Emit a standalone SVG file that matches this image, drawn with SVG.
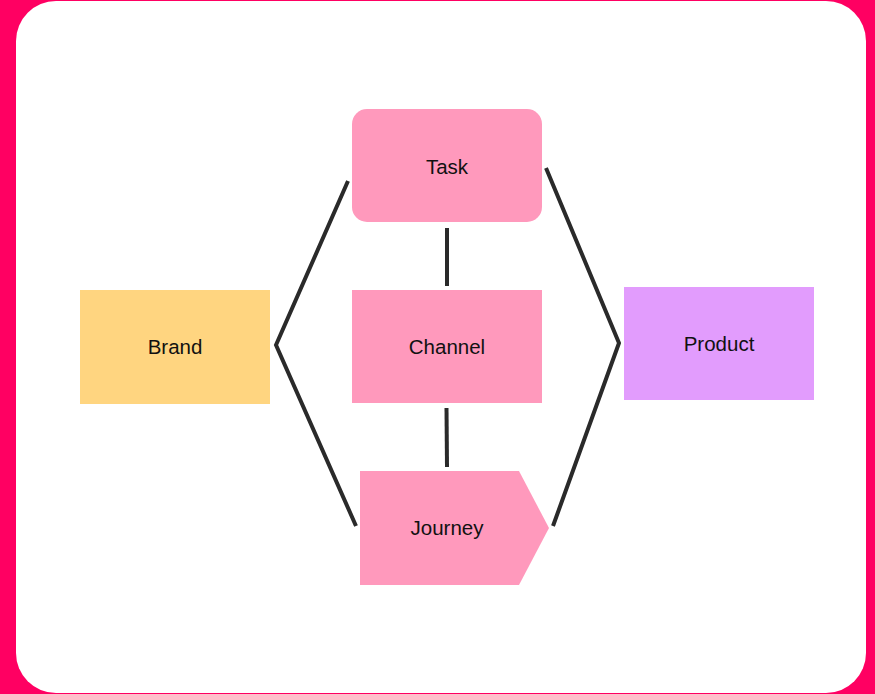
<svg xmlns="http://www.w3.org/2000/svg" width="875" height="694" viewBox="0 0 875 694">
  <style>
    .lbl { font-family: "Liberation Sans", Arial, sans-serif; font-size: 20.5px; fill: #111; text-anchor: middle; }
    .pink { fill: #FF99BC; }
    .edge { fill: none; stroke: #2A2A2A; stroke-width: 4; stroke-linecap: butt; stroke-linejoin: miter; }
  </style>
  <!-- frame -->
  <rect x="0" y="0" width="875" height="694" fill="#FF0062"/>
  <rect x="16" y="1" width="850" height="692" rx="40" ry="40" fill="#FFFFFF"/>

  <!-- connectors -->
  <g id="connectors">
    <line class="edge" x1="447" y1="228" x2="447" y2="286"/>
    <line class="edge" x1="446.5" y1="408" x2="447" y2="467"/>
    <polyline class="edge" points="348,181 276,345 356,526"/>
    <polyline class="edge" points="546,168 619,343 553,526"/>
  </g>

  <g id="task">
    <rect class="pink" x="352" y="109" width="190" height="113" rx="15" ry="15"/>
    <text class="lbl" x="447" y="174">Task</text>
  </g>
  <g id="channel">
    <rect class="pink" x="352" y="290" width="190" height="113"/>
    <text class="lbl" x="447" y="354">Channel</text>
  </g>
  <g id="journey">
    <polygon class="pink" points="360,471 519,471 549,528 519,585 360,585"/>
    <text class="lbl" x="447" y="535">Journey</text>
  </g>
  <g id="brand">
    <rect x="80" y="290" width="190" height="114" fill="#FFD580"/>
    <text class="lbl" x="175" y="354">Brand</text>
  </g>
  <g id="product">
    <rect x="624" y="287" width="190" height="113" fill="#E29CFD"/>
    <text class="lbl" x="719" y="351">Product</text>
  </g>
</svg>
